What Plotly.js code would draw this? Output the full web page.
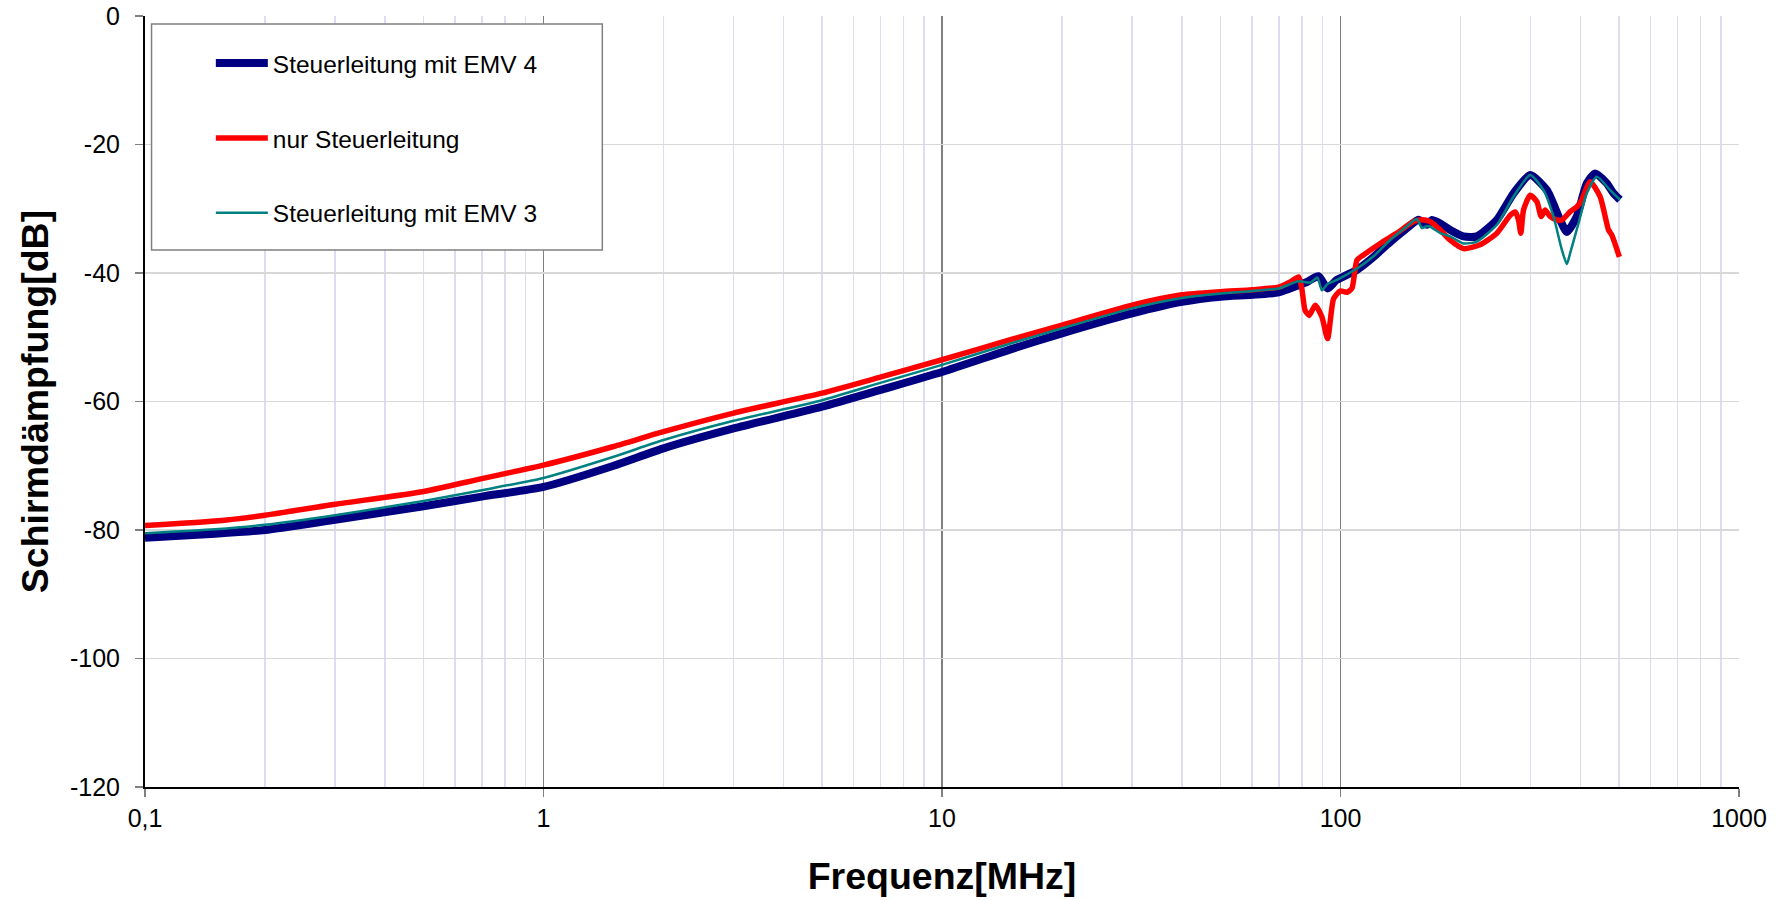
<!DOCTYPE html>
<html>
<head>
<meta charset="utf-8">
<script src="https://cdn.plot.ly/plotly-3.0.1.min.js"></script>
<style>html,body{margin:0;padding:0;background:#fff;}#chart{width:1787px;height:900px;}</style>
</head>
<body>
<div id="chart"></div>
<script>
// Frequencies in MHz, attenuation in dB
const freqEMV4 = [0.1,0.15,0.2,0.3,0.5,0.7,1,1.5,2,3,5,7,10,15,20,30,40,50,60,70,78.4,82.3,88,92.8,97.7,103.8,110,120,132,145,157,164.8,169.6,178,188.5,203.5,220,246.8,271.8,299.2,329.5,355.8,369.8,391.7,415,435.5,466,484.2,502.6];
const dbEMV4   = [-81.2,-80.6,-80.0,-78.4,-76.3,-74.8,-73.3,-70.0,-67.3,-64.2,-60.8,-58.2,-55.4,-51.8,-49.4,-46.3,-44.5,-43.7,-43.4,-43.0,-41.9,-41.4,-40.5,-42.4,-41.1,-40.3,-39.5,-37.7,-35.4,-33.3,-31.7,-32.5,-31.75,-32.3,-33.3,-34.3,-34.3,-31.75,-27.6,-24.75,-27.1,-31.75,-33.6,-31.2,-26.05,-24.5,-26.05,-27.6,-28.6];

const freqNur = [0.1,0.15,0.2,0.3,0.5,0.7,1,1.5,2,3,5,7,10,15,20,30,40,50,60,70,74.8,78.5,80.0,81.5,83.5,86.4,89.8,92.8,96.1,99.8,103.8,106.8,110,114.2,125.8,138.5,152.5,160.1,168,178,188.5,203.5,224,246.8,266.6,274.4,279.7,283.5,287.9,299.2,311,318.9,326.3,335.8,349,359.3,377,391.7,403.2,423.1,448.2,470.5,479.6,501];
const dbNur   = [-79.3,-78.6,-77.7,-76.0,-74.0,-72.0,-69.9,-67.0,-64.7,-61.8,-58.7,-56.2,-53.5,-50.3,-48.1,-45.0,-43.4,-42.9,-42.6,-42.2,-41.4,-40.6,-42.5,-45.8,-46.6,-45.0,-46.8,-50.2,-44.0,-42.8,-43.0,-42.4,-38.0,-37.2,-35.4,-33.8,-32.0,-31.7,-32.0,-33.3,-34.9,-36.2,-35.6,-33.8,-31.0,-30.5,-31.75,-33.8,-30.2,-27.9,-28.9,-31.2,-30.2,-31.2,-31.75,-31.75,-30.45,-29.7,-28.6,-25.8,-28.1,-33.3,-34.1,-37.5];

const freqEMV3 = [0.1,0.15,0.2,0.3,0.5,0.7,1,1.5,2,3,5,7,10,15,20,30,40,50,60,70,78.4,84,87.5,89.8,92.8,97.7,110,121,132,145,155.5,160,165,168,178,188.5,203.5,220,246.8,271.8,299.2,323.2,342.3,359.3,369.8,377,395.5,415,439.7,475,502.6];
const dbEMV3   = [-80.5,-79.9,-79.2,-77.7,-75.5,-73.8,-71.9,-68.6,-66.0,-63.0,-59.8,-57.1,-54.3,-50.9,-48.6,-45.5,-43.9,-43.2,-42.8,-42.4,-41.3,-41.5,-40.7,-42.7,-41.7,-41.1,-39.3,-37.4,-35.1,-33.0,-31.6,-33.0,-32.7,-32.8,-33.8,-34.3,-35.4,-35.1,-32.5,-28.1,-24.75,-27.1,-31.2,-36.4,-38.6,-36.9,-32.3,-27.6,-25.0,-27.1,-28.6];

const seriesNames = ['Steuerleitung mit EMV 4','nur Steuerleitung','Steuerleitung mit EMV 3'];
const xTickVals = [0.1,1,10,100,1000];
const xTickText = ['0,1','1','10','100','1000'];
const yTickVals = [0,-20,-40,-60,-80,-100,-120];
const yTickText = ['0','-20','-40','-60','-80','-100','-120'];

const FONT = 'Liberation Sans, Arial, Helvetica, sans-serif';

const traces = [
  {x: freqEMV4, y: dbEMV4, name: seriesNames[0], legendgroup:'a', mode:'lines',
   line:{color:'#000080', width:8, shape:'spline', smoothing:0.6}},
  {x: freqNur, y: dbNur, name: seriesNames[1], legendgroup:'b', mode:'lines',
   line:{color:'#FF0000', width:5.5, shape:'spline', smoothing:0.6}},
  {x: freqEMV3, y: dbEMV3, name: seriesNames[2], legendgroup:'c', mode:'lines',
   line:{color:'#008080', width:2.5, shape:'spline', smoothing:0.6}}
];

const layout = {
  width:1787, height:900,
  margin:{l:144.5, r:48, t:16, b:113},
  paper_bgcolor:'#fff', plot_bgcolor:'#fff',
  font:{family:FONT, size:24, color:'#000'},
  showlegend:true,
  legend:{x:0.0413, y:0.968, xanchor:'left', yanchor:'top', bgcolor:'rgba(0,0,0,0)',
          borderwidth:0, font:{family:FONT, size:24.5, color:'#000'}, tracegroupgap:40, itemwidth:52},
  xaxis:{type:'log', range:[-1,3], tickmode:'array', tickvals:xTickVals, ticktext:xTickText,
         showgrid:true, gridcolor:'#808080', gridwidth:1.2,
         minor:{dtick:'D1', showgrid:true, gridcolor:'#DCDCF6', gridwidth:1.5, ticks:''},
         showline:true, linecolor:'#000', linewidth:2, ticks:'outside', ticklen:8, tickcolor:'#808080', tickwidth:1.2,
         tickfont:{family:FONT, size:25}, zeroline:false,
         title:{text:'<b>Frequenz[MHz]</b>', font:{family:FONT, size:37.5}, standoff:32}},
  yaxis:{range:[-120,0], tickmode:'array', tickvals:yTickVals, ticktext:yTickText,
         showgrid:true, gridcolor:'#D8D8D8', gridwidth:1.5,
         showline:true, linecolor:'#000', linewidth:2, ticks:'outside', ticklen:8, tickcolor:'#808080', tickwidth:1.2,
         tickfont:{family:FONT, size:25}, zeroline:false, ticklabelstandoff:10,
         title:{text:'<b>Schirmdämpfung[dB]</b>', font:{family:FONT, size:37.5}, standoff:10}},
  shapes:[{type:'rect', xref:'paper', yref:'paper', x0:0.0041, x1:0.2869, y0:0.6965, y1:0.9896,
           line:{color:'#808080', width:1.5}, fillcolor:'#fff', layer:'above'}]
};

Plotly.newPlot('chart', traces, layout, {displayModeBar:false, staticPlot:true});
</script>
</body>
</html>
